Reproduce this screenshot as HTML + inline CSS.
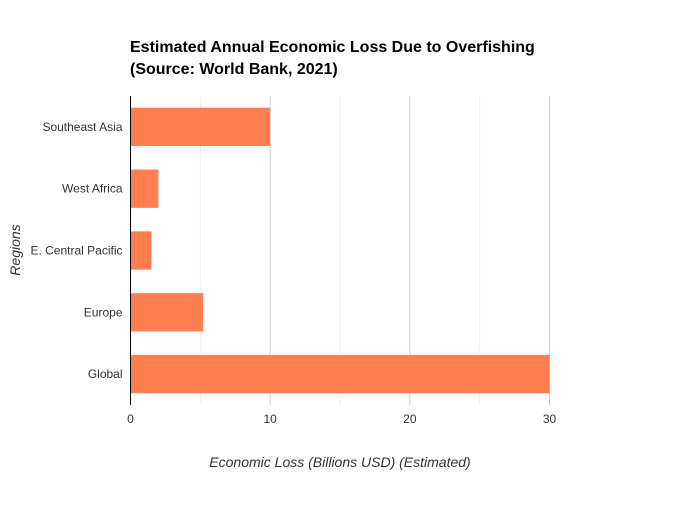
<!DOCTYPE html>
<html><head><meta charset="utf-8"><style>
body{margin:0;background:#fff;font-family:"Liberation Sans",sans-serif}
</style></head><body>
<svg id="c" width="680" height="500" xmlns="http://www.w3.org/2000/svg">
<text x="130" y="52" font-size="16" font-weight="bold" fill="#000">Estimated Annual Economic Loss Due to Overfishing</text>
<text x="130" y="74" font-size="16" font-weight="bold" fill="#000">(Source: World Bank, 2021)</text>
<g id="grid"></g><g id="bars"></g><g id="axes"></g>
<text x="340" y="467" font-size="14" font-style="italic" fill="#333" text-anchor="middle">Economic Loss (Billions USD) (Estimated)</text>
<text transform="translate(20,250) rotate(-90)" font-size="14" font-style="italic" fill="#333" text-anchor="middle">Regions</text>
</svg>
<script>
const categories=["Southeast Asia","West Africa","E. Central Pacific","Europe","Global"];
const values=[10,2,1.5,5.2,30];
const tickValues=[0,10,20,30];
const gridValues=[5,10,15,20,25,30];
const NS="http://www.w3.org/2000/svg";
const x0=130.5,x1=549.5,y0=96,y1=405,dmax=30;
function xs(v){return x0+(v/dmax)*(x1-x0);}
const band=(y1-y0)/categories.length;
function ys(i){return y0+i*band;}
function mk(tag,attrs,parent){const e=document.createElementNS(NS,tag);for(const k in attrs)e.setAttribute(k,attrs[k]);document.getElementById(parent).appendChild(e);return e;}
gridValues.forEach(v=>{
  const l=mk('line',{x1:xs(v),x2:xs(v),y1:y0,y2:y1,stroke:v%10===0?'#ccc':'#eee','stroke-width':1},'grid');
  
  
});
categories.forEach((c,i)=>{
  const h=band*0.62;
  const r=mk('rect',{x:x0,y:ys(i)+(band-h)/2,width:xs(values[i])-x0,height:h,fill:'#ff7f50'},'bars');
  
  
  const t=mk('text',{x:x0-8,y:ys(i)+band/2+4,'font-size':12,fill:'#333','text-anchor':'end'},'axes');
  t.textContent=c;
  
  
});
const ax=mk('line',{x1:x0,x2:x0,y1:y0,y2:y1,stroke:'#000','stroke-width':1},'axes');


tickValues.forEach(v=>{
  const t=mk('text',{x:xs(v),y:423,'font-size':12,fill:'#333','text-anchor':'middle'},'axes');
  t.textContent=v;
  
  
});
</script>
</body></html>
